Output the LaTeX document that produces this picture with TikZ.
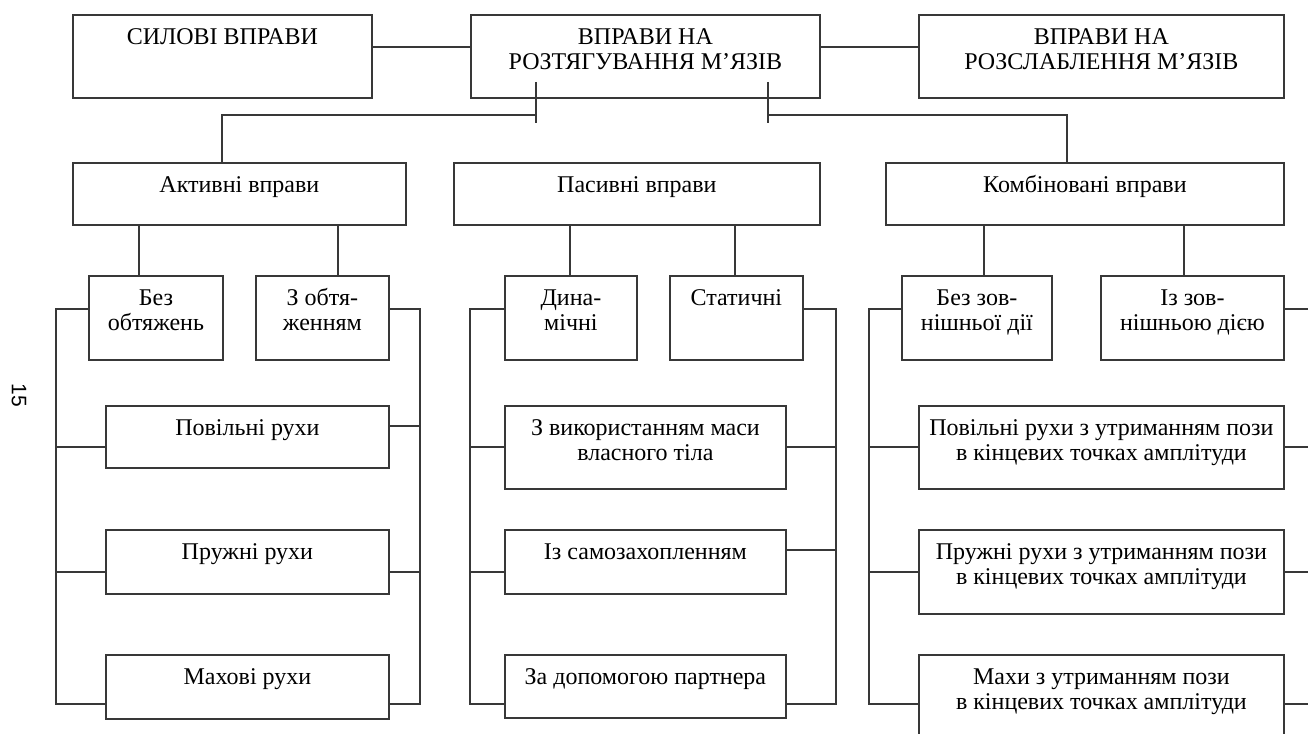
\documentclass[tikz,border=0pt]{standalone}
\usepackage{fontspec}
\setmainfont{Liberation Serif}
\newfontfamily\pgnumfont{Liberation Sans}
\newcommand{\bt}[3]{\parbox[c][#2][t]{#1}{\centering\rule{0pt}{30pt}#3}}
\begin{document}
\begin{tikzpicture}[x=1pt,y=-1pt,
  bx/.style={draw=black!78, line width=1.8pt, inner sep=0pt, anchor=north west,
             font=\fontsize{24}{25}\selectfont},
  ln/.style={draw=black!78, line width=1.8pt}]
\useasboundingbox (0,0) rectangle (1308,733);
\clip (0,0) rectangle (1308,733);
% top row
\node[bx] (sil) at (72,14)  {\bt{299pt}{83pt}{СИЛОВІ ВПРАВИ}};
\node[bx] (cen) at (470,14) {\bt{349pt}{83pt}{ВПРАВИ НА\\РОЗТЯГУВАННЯ М’ЯЗІВ}};
\node[bx] (rel) at (918,14) {\bt{365pt}{83pt}{ВПРАВИ НА\\РОЗСЛАБЛЕННЯ М’ЯЗІВ}};
% second row
\node[bx] (akt) at (72,162)  {\bt{333pt}{62pt}{Активні вправи}};
\node[bx] (pas) at (453,162) {\bt{366pt}{62pt}{Пасивні вправи}};
\node[bx] (kom) at (885,162) {\bt{398pt}{62pt}{Комбіновані вправи}};
% third row
\node[bx] (bez) at (88,275)   {\bt{134pt}{84pt}{Без\\обтяжень}};
\node[bx] (zob) at (255,275)  {\bt{133pt}{84pt}{З обтя-\\женням}};
\node[bx] (din) at (504,275)  {\bt{132pt}{84pt}{Дина-\\мічні}};
\node[bx] (sta) at (669,275)  {\bt{133pt}{84pt}{Статичні}};
\node[bx] (bzd) at (901,275)  {\bt{150pt}{84pt}{Без зов-\\нішньої дії}};
\node[bx] (izd) at (1100,275) {\bt{183pt}{84pt}{Із зов-\\нішньою дією}};
% active leaves
\node[bx] (a1) at (105,405) {\bt{283pt}{62pt}{Повільні рухи}};
\node[bx] (a2) at (105,529) {\bt{283pt}{64pt}{Пружні рухи}};
\node[bx] (a3) at (105,654) {\bt{283pt}{64pt}{Махові рухи}};
% passive leaves
\node[bx] (p1) at (504,405) {\bt{281pt}{83pt}{З використанням маси\\власного тіла}};
\node[bx] (p2) at (504,529) {\bt{281pt}{64pt}{Із самозахопленням}};
\node[bx] (p3) at (504,654) {\bt{281pt}{63pt}{За допомогою партнера}};
% combined leaves
\node[bx] (k1) at (918,405) {\bt{365pt}{83pt}{Повільні рухи з утриманням пози\\в кінцевих точках амплітуди}};
\node[bx] (k2) at (918,529) {\bt{365pt}{84pt}{Пружні рухи з утриманням пози\\в кінцевих точках амплітуди}};
\node[bx] (k3) at (918,654) {\bt{365pt}{95pt}{Махи з утриманням пози\\в кінцевих точках амплітуди}};
% page number
\node[rotate=-90, inner sep=0pt, font=\pgnumfont\fontsize{21}{21}\selectfont] (pg) at (19,395) {15};
% helper coordinates
\coordinate (y47) at (0,47);
\coordinate (y115) at (0,115);
\coordinate (y309) at (0,309);
\coordinate (y426) at (0,426);
\coordinate (y447) at (0,447);
\coordinate (y550) at (0,550);
\coordinate (y572) at (0,572);
\coordinate (y704) at (0,704);
\coordinate (x139) at (139,0);
\coordinate (x338) at (338,0);
\coordinate (x570) at (570,0);
\coordinate (x735) at (735,0);
\coordinate (x984) at (984,0);
\coordinate (x1184) at (1184,0);
\coordinate (tL1) at (536,82);
\coordinate (tL2) at (536,123);
\coordinate (tR1) at (768,82);
\coordinate (tR2) at (768,123);
\coordinate (jL) at (222,115);
\coordinate (jR) at (1067,115);
\coordinate (sAL) at (56,309);
\coordinate (sAR) at (420,309);
\coordinate (sPL) at (470,309);
\coordinate (sPR) at (836,309);
\coordinate (sKL) at (869,309);
\coordinate (edge) at (1320,0);
% top connectors
\draw[ln] (sil.east |- y47) -- (cen.west |- y47);
\draw[ln] (cen.east |- y47) -- (rel.west |- y47);
\draw[ln] (tL1) -- (tL2);
\draw[ln] (tR1) -- (tR2);
\draw[ln] (tL1 |- y115) -- (jL) -- (jL |- akt.north);
\draw[ln] (tR1 |- y115) -- (jR) -- (jR |- kom.north);
% parents to children
\draw[ln] (akt.south -| x139) -- (bez.north -| x139);
\draw[ln] (akt.south -| x338) -- (zob.north -| x338);
\draw[ln] (pas.south -| x570) -- (din.north -| x570);
\draw[ln] (pas.south -| x735) -- (sta.north -| x735);
\draw[ln] (kom.south -| x984) -- (bzd.north -| x984);
\draw[ln] (kom.south -| x1184) -- (izd.north -| x1184);
% active spines
\draw[ln] (bez.west |- y309) -- (sAL) -- (sAL |- y704) -- (a3.west |- y704);
\draw[ln] (sAL |- y447) -- (a1.west |- y447);
\draw[ln] (sAL |- y572) -- (a2.west |- y572);
\draw[ln] (zob.east |- y309) -- (sAR) -- (sAR |- y704) -- (a3.east |- y704);
\draw[ln] (sAR |- y426) -- (a1.east |- y426);
\draw[ln] (sAR |- y572) -- (a2.east |- y572);
% passive spines
\draw[ln] (din.west |- y309) -- (sPL) -- (sPL |- y704) -- (p3.west |- y704);
\draw[ln] (sPL |- y447) -- (p1.west |- y447);
\draw[ln] (sPL |- y572) -- (p2.west |- y572);
\draw[ln] (sta.east |- y309) -- (sPR) -- (sPR |- y704) -- (p3.east |- y704);
\draw[ln] (sPR |- y447) -- (p1.east |- y447);
\draw[ln] (sPR |- y550) -- (p2.east |- y550);
% combined spines
\draw[ln] (bzd.west |- y309) -- (sKL) -- (sKL |- y704) -- (k3.west |- y704);
\draw[ln] (sKL |- y447) -- (k1.west |- y447);
\draw[ln] (sKL |- y572) -- (k2.west |- y572);
\draw[ln] (izd.east |- y309) -- (edge |- y309);
\draw[ln] (k1.east |- y447) -- (edge |- y447);
\draw[ln] (k2.east |- y572) -- (edge |- y572);
\draw[ln] (k3.east |- y704) -- (edge |- y704);
\end{tikzpicture}
\end{document}
